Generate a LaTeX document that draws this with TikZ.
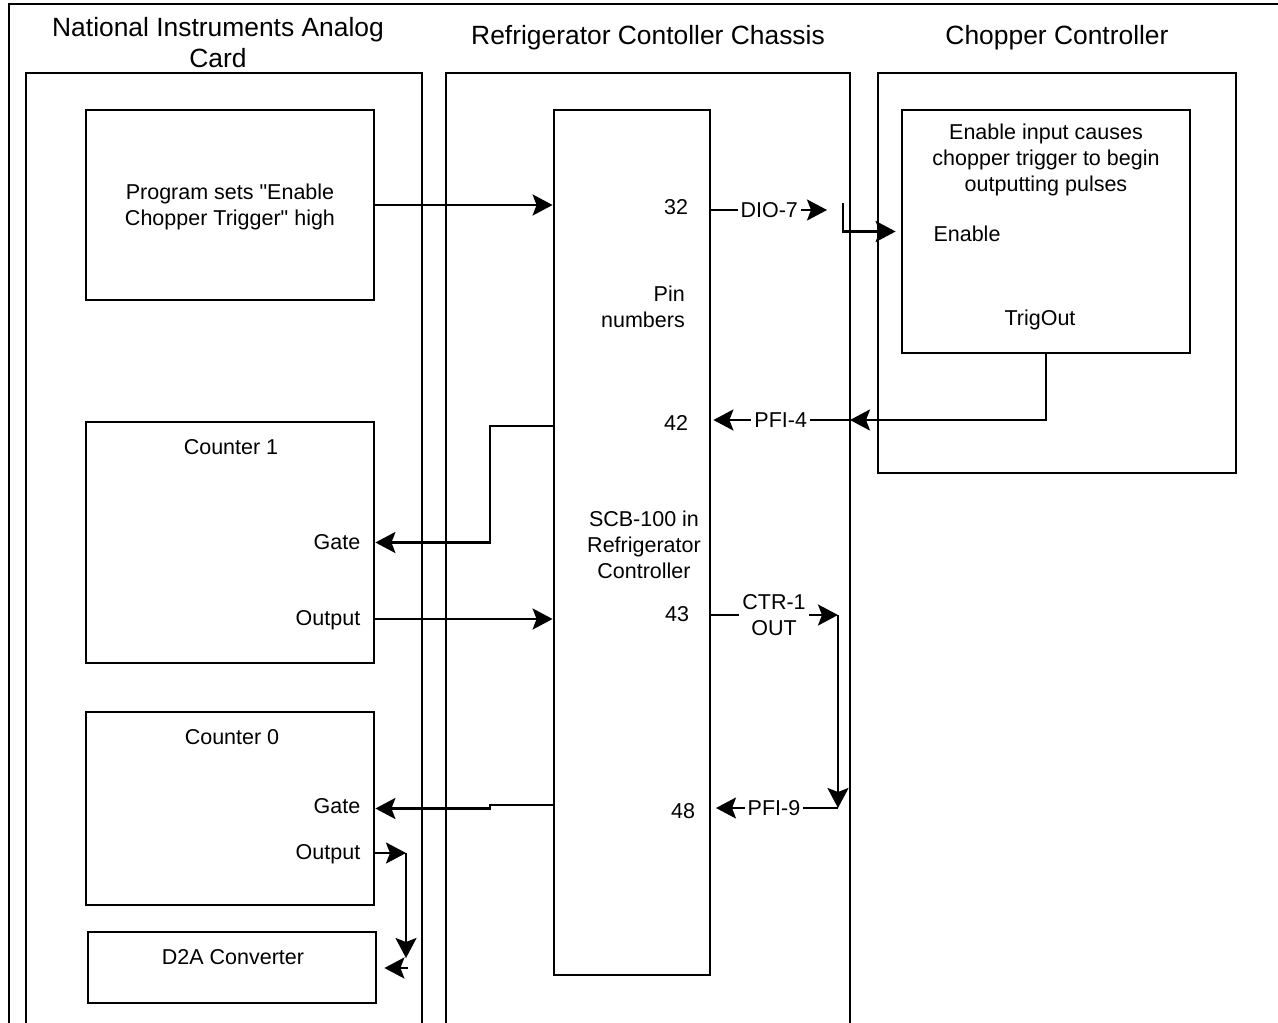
\documentclass[tikz,border=0pt]{standalone}
\usepackage{fontspec}
\newfontfamily\lsans{Liberation Sans}
\usetikzlibrary{arrows.meta}
\tikzset{myarrow/.tip={Stealth[length=20pt,width=21pt,inset=4pt]}}
\begin{document}
\begin{tikzpicture}[x=1pt,y=-1pt,
 box/.style={draw, line width=2.8pt, inner sep=0pt},
 conn/.style={line width=2.6pt},
 arr/.style={conn, -myarrow},
 lbl/.style={font=\lsans\fontsize{21.5}{26}\selectfont, align=center, inner sep=1pt},
 ttl/.style={font=\lsans\fontsize{26.4}{31}\selectfont, align=center, inner sep=1pt},
 onl/.style={lbl, fill=white, inner sep=3pt}]
\useasboundingbox (0,0) rectangle (1278,1023);
% outer frame
\draw[line width=2.8pt] (1282,4) -- (9,4) -- (9,1030);
% containers
\node[box, minimum width=396pt, minimum height=970pt] (card) at (224,558) {};
\node[box, minimum width=404pt, minimum height=970pt] (chas) at (648,558) {};
\node[box, minimum width=358pt, minimum height=400pt] (chop) at (1057,273) {};
% titles
\node[ttl] (tcard) at (218,43) {National Instruments Analog\\Card};
\node[ttl] (tchas) at (648,38) {Refrigerator Contoller Chassis};
\node[ttl] (tchop) at (1057,38) {Chopper Controller};
% inner boxes
\node[box, minimum width=288pt, minimum height=190pt] (prog) at (230,205) {};
\node[box, minimum width=288pt, minimum height=241pt] (c1) at (230,542.5) {};
\node[box, minimum width=288pt, minimum height=193pt] (c0) at (230,808.5) {};
\node[box, minimum width=288pt, minimum height=71pt] (d2a) at (232,967.5) {};
\node[box, minimum width=156pt, minimum height=865pt] (scb) at (632,542.5) {};
\node[box, minimum width=288pt, minimum height=243pt] (cin) at (1046,231.5) {};
% texts
\node[lbl] (tprog) at (230,207) {Program sets "Enable\\Chopper Trigger" high};
\node[lbl] (tcin) at (1046,160) {Enable input causes\\chopper trigger to begin\\outputting pulses};
\node[lbl] (ten) at (967,234) {Enable};
\node[lbl] (ttrig) at (1040,320) {TrigOut};
\node[lbl, anchor=east, align=right] (tpin) at (686,307) {Pin\\numbers};
\node[lbl] (n32) at (676,207) {32};
\node[lbl] (n42) at (676,423) {42};
\node[lbl] (n43) at (677,614) {43};
\node[lbl] (n48) at (683,811) {48};
\node[lbl] (tscb) at (644,545) {SCB-100 in\\Refrigerator\\Controller};
\node[lbl] (tc1) at (231,447) {Counter 1};
\node[lbl] (tg1) at (337,542) {Gate};
\node[lbl] (to1) at (328,620) {Output};
\node[lbl] (tc0) at (232,737) {Counter 0};
\node[lbl] (tg0) at (337,806) {Gate};
\node[lbl] (to0) at (328,854) {Output};
\node[lbl] (td2a) at (233,957) {D2A Converter};
% coordinates
\coordinate (d7) at (827,210);
\coordinate (en) at (843,203);
\coordinate (p4) at (850,420);
\coordinate (g1) at (554,426);
\coordinate (g1b) at (490,426);
\coordinate (o1) at (374,619);
\coordinate (p43) at (710,615);
\coordinate (c43) at (838,615);
\coordinate (c48) at (838,808);
\coordinate (p48) at (710,808);
\coordinate (g0) at (554,805);
\coordinate (g0b) at (490,805);
\coordinate (o0) at (374,853);
\coordinate (o0b) at (406,853);
\coordinate (o0c) at (406,958);
\coordinate (dd) at (408,968);
% connectors
\draw[arr] (prog.east) -- (prog.east -| scb.west);
\draw[arr] (scb.east |- d7) -- node[onl] (ldio) {DIO-7} (d7);
\draw[arr, shorten >=5pt] (en) |- (cin.west);
\draw[arr] (cin.south) |- (p4);
\draw[arr, shorten >=2pt] (p4) -- node[onl] (lp4) {PFI-4} (scb.east |- p4);
\draw[arr] (g1) -- (g1b) |- (c1.east);
\draw[arr] (o1) -- (o1 -| scb.west);
\draw[arr] (p43) -- node[onl] (lctr) {CTR-1\\OUT} (c43);
\draw[arr] (c43) -- (c48);
\draw[arr, shorten >=6pt] (c48) -- node[onl] (lp9) {PFI-9} (p48);
\draw[arr] (g0) -- (g0b) |- (c0.east);
\draw[arr] (o0) -- (o0b);
\draw[arr] (o0b) -- (o0c);
\draw[arr, shorten >=7pt] (dd) -- (dd -| d2a.east);
\end{tikzpicture}
\end{document}
